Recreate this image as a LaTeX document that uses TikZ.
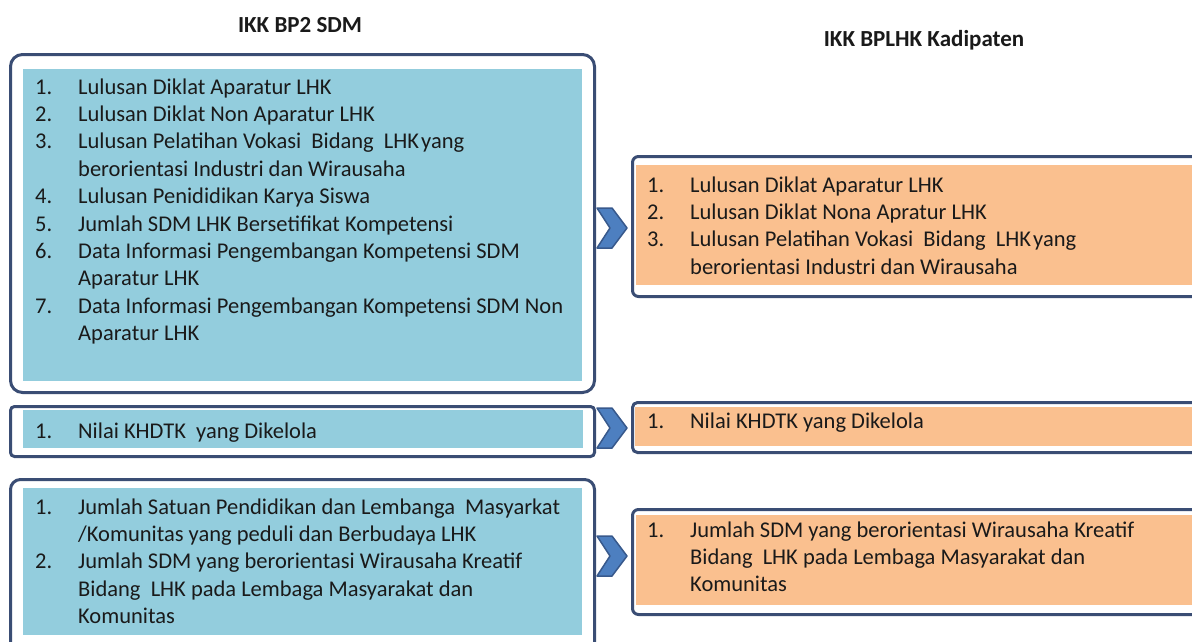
\documentclass[tikz,border=0pt]{standalone}
\usepackage{fontspec}
\setmainfont{Carlito}
\usetikzlibrary{calc}
\definecolor{framecol}{HTML}{3A4D74}
\definecolor{bluefill}{HTML}{93CDDD}
\definecolor{orangefill}{HTML}{FAC08F}
\definecolor{chevfill}{HTML}{4D7FC0}
\definecolor{chevline}{HTML}{38598C}
\definecolor{textcol}{HTML}{1A1A1A}
\newcommand\txtsize{\fontsize{22.5}{27.4}\selectfont}
\newcommand\itm[2]{\strut\makebox[43pt][l]{#1}#2}
\newcommand\cnt[1]{\strut\makebox[43pt][l]{}#1}
\tikzset{
  boxframe/.style={draw=framecol, line width=3pt, fill=white, anchor=north west, inner sep=0pt},
  txt/.style={anchor=north west, inner sep=0pt, align=left, font=\txtsize, text=textcol},
  heading/.style={inner sep=0pt, font=\fontsize{23}{27}\selectfont\bfseries, text=textcol},
  chevron/.pic={\draw[fill=chevfill, draw=chevline, line width=1.5pt, line join=round]
     (-15,-20) -- (0,-20) -- (15,0) -- (0,20) -- (-15,20) -- (-2,0) -- cycle;}
}
\begin{document}
\begin{tikzpicture}[x=1pt,y=-1pt]
\useasboundingbox (0,0) rectangle (1192,641);
\clip (0,0) rectangle (1192,641);
\fill[white] (0,0) rectangle (1192,641);

% headings
\node[heading] (h1) at (300,25) {IKK BP2 SDM};
\node[heading] (h2) at (924,40) {IKK BPLHK Kadipaten};

% left frames
\node[boxframe, rounded corners=12pt, minimum width=584pt, minimum height=338pt] (L1) at (9,53) {};
\node[boxframe, rounded corners=4pt, minimum width=584pt, minimum height=50pt] (L2) at (9,405) {};
\node[boxframe, rounded corners=10pt, minimum width=584pt, minimum height=200pt] (L3) at (9,478) {};
% right frames
\node[boxframe, rounded corners=6pt, minimum width=600pt, minimum height=140pt] (R1) at (631,155) {};
\node[boxframe, rounded corners=5pt, minimum width=600pt, minimum height=50pt] (R2) at (631,401) {};
\node[boxframe, rounded corners=6pt, minimum width=600pt, minimum height=105pt] (R3) at (631,508) {};

% inner fills
\fill[bluefill] (23,69) rectangle (582,381);
\fill[bluefill] (23,410) rectangle (583,448);
\fill[bluefill] (23,488) rectangle (582,635);
\fill[orangefill] (636,165) rectangle (1200,285);
\fill[orangefill] (635,407) rectangle (1200,446);
\fill[orangefill] (636,515) rectangle (1200,605);

% chevrons between the boxes
\pic (c1) at (612,228) {chevron};
\pic (c2) at (612,428) {chevron};
\pic (c3) at (612,556) {chevron};

% texts
\node[txt] (tL1) at (35,74.8) {%
\itm{1.}{Lulusan Diklat Aparatur LHK}\\
\itm{2.}{Lulusan Diklat Non Aparatur LHK}\\
\itm{3.}{Lulusan Pelatihan Vokasi \ Bidang \ LHK\hspace{2pt}yang}\\
\cnt{berorientasi Industri dan Wirausaha}\\
\itm{4.}{Lulusan Penididikan Karya Siswa}\\
\itm{5.}{Jumlah SDM LHK Bersetifikat Kompetensi}\\
\itm{6.}{Data Informasi Pengembangan Kompetensi SDM}\\
\cnt{Aparatur LHK}\\
\itm{7.}{Data Informasi Pengembangan Kompetensi SDM Non}\\
\cnt{Aparatur LHK}};

\node[txt] (tL2) at (35,418.8) {\itm{1.}{Nilai KHDTK \ yang Dikelola}};

\node[txt] (tL3) at (35,494.8) {%
\itm{1.}{Jumlah Satuan Pendidikan dan Lembanga \ Masyarkat}\\
\cnt{/Komunitas yang peduli dan Berbudaya LHK}\\
\itm{2.}{Jumlah SDM yang berorientasi Wirausaha Kreatif}\\
\cnt{Bidang \ LHK pada Lembaga Masyarakat dan}\\
\cnt{Komunitas}};

\node[txt] (tR1) at (647,172.8) {%
\itm{1.}{Lulusan Diklat Aparatur LHK}\\
\itm{2.}{Lulusan Diklat Nona Apratur LHK}\\
\itm{3.}{Lulusan Pelatihan Vokasi \ Bidang \ LHK\hspace{2pt}yang}\\
\cnt{berorientasi Industri dan Wirausaha}};

\node[txt] (tR2) at (647,409.3) {\itm{1.}{Nilai KHDTK yang Dikelola}};

\node[txt] (tR3) at (647,517.8) {%
\itm{1.}{Jumlah SDM yang berorientasi Wirausaha Kreatif}\\
\cnt{Bidang \ LHK pada Lembaga Masyarakat dan}\\
\cnt{Komunitas}};
\end{tikzpicture}
\end{document}
